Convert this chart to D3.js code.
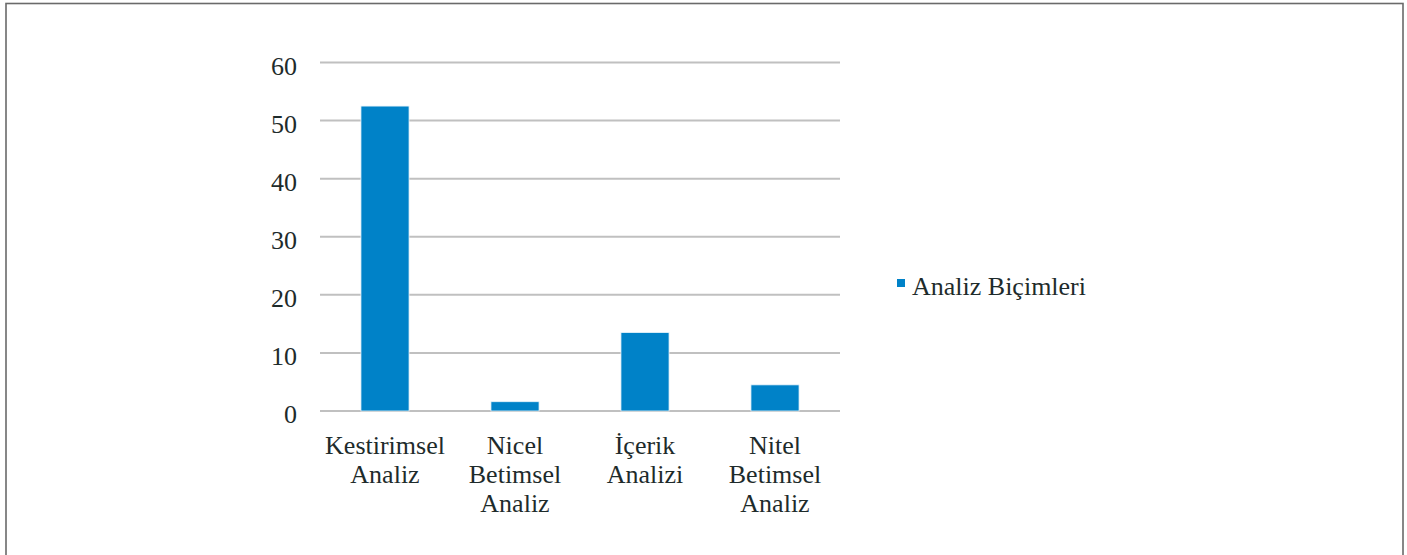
<!DOCTYPE html>
<html>
<head>
<meta charset="utf-8">
<script src="https://cdn.jsdelivr.net/npm/d3@7"></script>
<style>
  body { margin: 0; background: #fff; }
  text { font-family: "Liberation Serif", "Times New Roman", serif; fill: #1e2b2b; }
</style>
</head>
<body>
<div id="chart"></div>
<script>
// data
const categories = ["Kestirimsel Analiz", "Nicel Betimsel Analiz", "İçerik Analizi", "Nitel Betimsel Analiz"];
const values = [52.5, 1.6, 13.5, 4.5];
const yTicks = [0, 10, 20, 30, 40, 50, 60];
const seriesName = "Analiz Biçimleri";

const W = 1407, H = 555;
const svg = d3.select("#chart").append("svg")
    .attr("width", W).attr("height", H);

// outer frame
svg.append("rect")
    .attr("x", 6).attr("y", 3.5)
    .attr("width", 1397).attr("height", 560)
    .attr("fill", "none")
    .attr("stroke", "#6a6a6a")
    .attr("stroke-width", 1.6);

let margin = {left: 320, right: 840, top: 62.5, bottom: 411};

let x = d3.scaleBand().domain(categories).range([margin.left, margin.right]).paddingInner(0.63).paddingOuter(0.315);
let y = d3.scaleLinear().domain([0, 60]).range([margin.bottom, margin.top]);

// gridlines
svg.append("g")
  .selectAll("line")
  .data(yTicks)
  .enter().append("line")
    .attr("x1", margin.left).attr("x2", margin.right)
    .attr("y1", d => y(d)).attr("y2", d => y(d))
    .attr("stroke", "#c0c0c0")
    .attr("stroke-width", 2);

// y tick labels
svg.append("g")
  .selectAll("text")
  .data(yTicks)
  .enter().append("text")
    .attr("x", 297)
    .attr("y", d => y(d) + 3)
    .attr("dy", "0.35em")
    .attr("text-anchor", "end")
    .style("font-size", "26px")
    .text(d => d);

// bars
svg.append("g")
  .selectAll("rect")
  .data(values)
  .enter().append("rect")
    .attr("x", (d, i) => x(categories[i]))
    .attr("y", d => y(d))
    .attr("width", x.bandwidth())
    .attr("height", d => y(0) - y(d))
    .attr("fill", "#0082c8")
    .attr("stroke", "#e8f4fb")
    .attr("stroke-width", 0.8);

// category labels, wrapped like the original
const labelLines = [["Kestirimsel", "Analiz"], ["Nicel", "Betimsel", "Analiz"], ["İçerik", "Analizi"], ["Nitel", "Betimsel", "Analiz"]];
const step = x.step();
svg.append("g")
  .selectAll("text")
  .data(categories)
  .enter().append("text")
    .attr("text-anchor", "middle")
    .style("font-size", "26px")
    .each(function(d, i) {
      let cx = margin.left + step * (i + 0.5);
      d3.select(this).selectAll("tspan")
        .data(labelLines[i])
        .enter().append("tspan")
          .attr("x", cx)
          .attr("y", (t, j) => 454 + j * 29)
          .text(t => t);
    });

// legend
svg.append("rect")
    .attr("x", 897).attr("y", 279)
    .attr("width", 8).attr("height", 8)
    .attr("fill", "#0082c8");
svg.append("text")
    .attr("x", 912).attr("y", 295)
    .style("font-size", "26px")
    .text(seriesName);
</script>
</body>
</html>
